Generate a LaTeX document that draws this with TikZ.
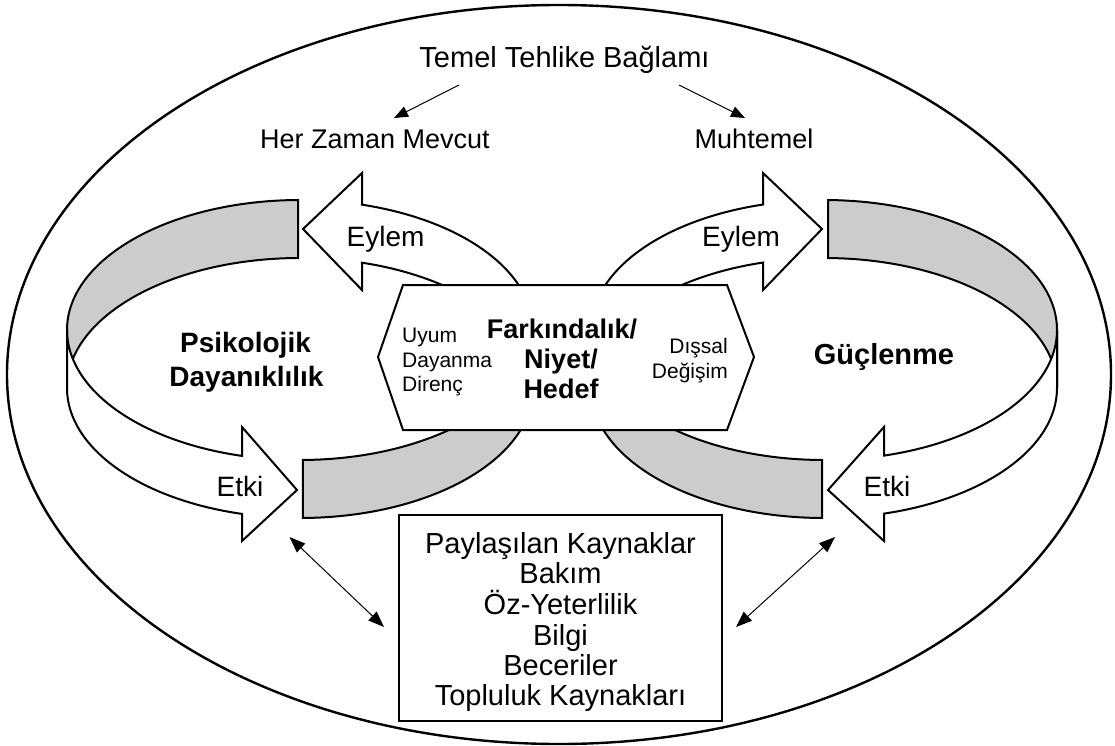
\documentclass[tikz,border=0pt]{standalone}
\usepackage{fontspec}
\setmainfont{Liberation Sans}
\usetikzlibrary{arrows.meta,calc}
\definecolor{bandgray}{RGB}{204,204,204}
\begin{document}
\begin{tikzpicture}[x=1pt,y=-1pt,
  every node/.style={inner sep=0pt},
  ring/.style={draw=black,line width=2pt},
  grayband/.style={ring,fill=bandgray},
  whiteband/.style={ring,fill=white},
  ringarc/.style={x radius=233,y radius=130},
  txt/.style={anchor=base,font=\fontsize{28}{32}\selectfont},
  bigtxt/.style={anchor=base,font=\fontsize{29}{33}\selectfont},
  subtxt/.style={anchor=base,font=\fontsize{27}{31}\selectfont},
  boldtxt/.style={anchor=base,font=\fontsize{28}{32}\selectfont\bfseries},
  hexbold/.style={anchor=base,font=\fontsize{27}{31}\selectfont\bfseries},
  smalltxt/.style={font=\fontsize{21}{24}\selectfont},
  pointer/.style={line width=1pt,-{Triangle[length=14pt,width=11pt]}},
  link/.style={line width=1pt,{Triangle[length=16pt,width=12pt]}-{Triangle[length=16pt,width=12pt]}}
]
\fill[white] (0,0) rectangle (1115,746);
\useasboundingbox (0,0) rectangle (1115,746);

% angles
\pgfmathsetmacro{\LgA}{360-acos((298-300)/233)}
\pgfmathsetmacro{\LeA}{360-acos((362-300)/233)}
\pgfmathsetmacro{\LkA}{acos((242-300)/233)}
\pgfmathsetmacro{\LbA}{acos((303-300)/233)}
\pgfmathsetmacro{\RgA}{360-acos((828-824)/233)}
\pgfmathsetmacro{\ReA}{360-acos((763-824)/233)}
\pgfmathsetmacro{\RkA}{acos((884-824)/233)}
\pgfmathsetmacro{\RbA}{acos((822-824)/233)}

% outer ellipse
\draw[line width=2.4pt] (559,374.5) ellipse[x radius=552,y radius=369.5];

% ---- left ring ----
\filldraw[grayband] ($(300,330)+(\LgA:233 and 130)$) arc[ringarc,start angle=\LgA,end angle=180]
  -- ($(300,388)+(180:233 and 130)$) arc[ringarc,start angle=180,end angle=\LgA] -- cycle;
\filldraw[whiteband] ($(300,330)+(180:233 and 130)$) arc[ringarc,start angle=180,end angle=\LkA]
  -- (242,427) -- (297,490) -- (242,541)
  -- ($(300,388)+(\LkA:233 and 130)$) arc[ringarc,start angle=\LkA,end angle=180] -- cycle;
\filldraw[whiteband] ($(300,330)+(\LeA:233 and 130)$) arc[ringarc,start angle=\LeA,end angle=360]
  -- ($(300,388)+(0:233 and 130)$) arc[ringarc,start angle=360,end angle=\LeA]
  -- (362,290) -- (303,229) -- (362,173) -- cycle;
\filldraw[grayband] ($(300,330)+(\LbA:233 and 130)$) arc[ringarc,start angle=\LbA,end angle=0]
  -- ($(300,388)+(0:233 and 130)$) arc[ringarc,start angle=0,end angle=\LbA] -- cycle;

% ---- right ring ----
\filldraw[grayband] ($(824,330)+(\RgA:233 and 130)$) arc[ringarc,start angle=\RgA,end angle=360]
  -- ($(824,388)+(0:233 and 130)$) arc[ringarc,start angle=360,end angle=\RgA] -- cycle;
\filldraw[whiteband] ($(824,330)+(0:233 and 130)$) arc[ringarc,start angle=0,end angle=\RkA]
  -- (884,427) -- (828,490) -- (884,541)
  -- ($(824,388)+(\RkA:233 and 130)$) arc[ringarc,start angle=\RkA,end angle=0] -- cycle;
\filldraw[whiteband] ($(824,330)+(180:233 and 130)$) arc[ringarc,start angle=180,end angle=\ReA]
  -- (763,173) -- (822,229) -- (763,290)
  -- ($(824,388)+(\ReA:233 and 130)$) arc[ringarc,start angle=\ReA,end angle=180] -- cycle;
\filldraw[grayband] ($(824,330)+(\RbA:233 and 130)$) arc[ringarc,start angle=\RbA,end angle=180]
  -- ($(824,388)+(180:233 and 130)$) arc[ringarc,start angle=180,end angle=\RbA] -- cycle;

% ---- hexagon ----
\filldraw[line width=2pt,fill=white] (403,285) -- (727,285) -- (754,357) -- (727,430) -- (403,430) -- (378,357) -- cycle;

% ---- texts ----
\node[bigtxt] (temel) at (564.5,68) {Temel Tehlike Bağlamı};
\node[subtxt] (herzaman) at (375,149) {Her Zaman Mevcut};
\node[subtxt] (muhtemel) at (754,149) {Muhtemel};

\node[txt] (eylemL) at (385.5,246) {Eylem};
\node[txt] (eylemR) at (741,246) {Eylem};
\node[txt] (etkiL) at (240,496) {Etki};
\node[txt] (etkiR) at (887,496) {Etki};

\node[boldtxt] (psiko) at (245.5,352) {Psikolojik};
\node[boldtxt] (dayan) at (246.5,386) {Dayanıklılık};
\node[boldtxt,font=\fontsize{29}{33}\selectfont\bfseries] (guc) at (884,364) {Güçlenme};

\node[smalltxt,anchor=base west] (uyum) at (402,342) {Uyum};
\node[smalltxt,anchor=base west] (dayanma) at (402,367) {Dayanma};
\node[smalltxt,anchor=base west] (direnc) at (402,391) {Direnç};
\node[smalltxt,anchor=base east] (dissal) at (728,353) {Dışsal};
\node[smalltxt,anchor=base east] (degisim) at (728,378) {Değişim};

\node[hexbold] (fark) at (562,338) {Farkındalık/};
\node[hexbold] (niyet) at (561,368) {Niyet/};
\node[hexbold] (hedef) at (561,398) {Hedef};

% ---- resources box ----
\node[draw,line width=1.5pt,minimum width=323pt,minimum height=206pt] (box) at (560.5,618) {};
\node[bigtxt] (kay) at (560.5,553) {Paylaşılan Kaynaklar};
\node[bigtxt] (bakim) at (560.5,583) {Bakım};
\node[bigtxt] (oz) at (560.5,614) {Öz-Yeterlilik};
\node[bigtxt] (bilgi) at (560.5,645) {Bilgi};
\node[bigtxt] (beceri) at (560.5,675) {Beceriler};
\node[bigtxt] (toplu) at (560.5,705) {Topluluk Kaynakları};

% ---- connectors ----
\coordinate (ptrLa) at (459,85);
\coordinate (ptrLb) at (394,118);
\coordinate (ptrRa) at (679,85);
\coordinate (ptrRb) at (745,118);
\draw[pointer] (ptrLa) -- (ptrLb);
\draw[pointer] (ptrRa) -- (ptrRb);

\coordinate (linkLa) at (289.5,537);
\coordinate (linkLb) at (384,627);
\coordinate (linkRa) at (835,537);
\coordinate (linkRb) at (736,627);
\draw[link] (linkLa) -- (linkLb);
\draw[link] (linkRa) -- (linkRb);
\end{tikzpicture}
\end{document}
